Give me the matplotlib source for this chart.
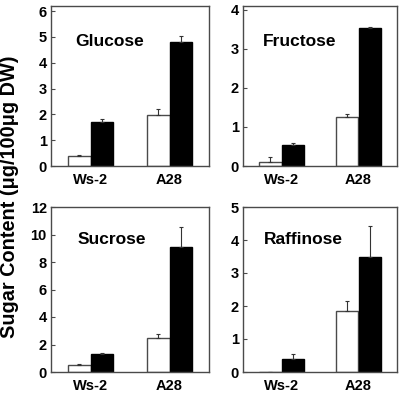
import numpy as np
import matplotlib
matplotlib.use("Agg")
import matplotlib.pyplot as plt

plt.rcParams['font.family'] = ['Liberation Sans', 'DejaVu Sans']
plt.rcParams['font.weight'] = 'bold'

# genotypes on the x axis; white = control, black = treated
GENOTYPES = ["Ws-2", "A28"]
SUGARS = ["Glucose", "Fructose", "Sucrose", "Raffinose"]

# values (ug/100ug DW), order: Ws-2, A28
glucose_white = [0.40, 1.98]
glucose_white_err = [0.04, 0.22]
glucose_black = [1.69, 4.79]
glucose_black_err = [0.13, 0.24]

fructose_white = [0.09, 1.25]
fructose_white_err = [0.13, 0.08]
fructose_black = [0.53, 3.53]
fructose_black_err = [0.05, 0.03]

sucrose_white = [0.49, 2.50]
sucrose_white_err = [0.10, 0.23]
sucrose_black = [1.29, 9.10]
sucrose_black_err = [0.10, 1.45]

raffinose_white = [0.0, 1.85]
raffinose_white_err = [0.0, 0.31]
raffinose_black = [0.40, 3.47]
raffinose_black_err = [0.16, 0.95]

YLIMS = [6.2, 4.1, 12, 5]
YTICKS = [np.arange(0, 7, 1), np.arange(0, 5, 1),
          np.arange(0, 13, 2), np.arange(0, 6, 1)]

# axes boxes in pixels (left, top, right, bottom) of the 400x393 image
W, H = 400, 393
BOXES = [(51, 6, 209, 166), (243, 6, 397, 166),
         (51, 207, 209, 372), (243, 207, 397, 372)]
TITLE_POS = [(0.37, 0.78), (0.37, 0.775), (0.385, 0.806), (0.395, 0.806)]

DATA = [
    (glucose_white, glucose_white_err, glucose_black, glucose_black_err),
    (fructose_white, fructose_white_err, fructose_black, fructose_black_err),
    (sucrose_white, sucrose_white_err, sucrose_black, sucrose_black_err),
    (raffinose_white, raffinose_white_err, raffinose_black, raffinose_black_err),
]

EDGE = "#4a4a4a"
BW = 0.29

fig = plt.figure(figsize=(W / 100, H / 100), dpi=100)

for i, (name, (wv, we, bv, be)) in enumerate(zip(SUGARS, DATA)):
    l, t, r, b = BOXES[i]
    ax = fig.add_axes([l / W, 1 - b / H, (r - l) / W, (b - t) / H])
    x = np.arange(len(GENOTYPES))
    ax.bar(x - BW / 2, wv, BW, color="white", edgecolor=EDGE, linewidth=1.0)
    ax.bar(x + BW / 2, bv, BW, color="black", edgecolor="black", linewidth=1.0)
    ax.errorbar(x - BW / 2, wv, yerr=[np.zeros(2), we], fmt="none",
                ecolor="#333333", elinewidth=0.8, capsize=1.5, capthick=0.8)
    ax.errorbar(x + BW / 2, bv, yerr=[np.zeros(2), be], fmt="none",
                ecolor="#333333", elinewidth=0.8, capsize=1.5, capthick=0.8)
    ax.set_xlim(-0.5, 1.5)
    ax.set_ylim(0, YLIMS[i])
    ax.set_yticks(YTICKS[i])
    ax.set_yticklabels([str(v) for v in YTICKS[i]], fontsize=10.5, fontweight="bold")
    ax.set_xticks(x)
    ax.set_xticklabels(GENOTYPES, fontsize=10.5, fontweight="bold")
    ax.tick_params(axis="x", length=0, pad=5)
    ax.tick_params(axis="y", direction="in", length=3, width=0.8,
                   color=EDGE, pad=3)
    for s in ax.spines.values():
        s.set_color(EDGE)
        s.set_linewidth(1.0)
    ax.text(*TITLE_POS[i], name, transform=ax.transAxes, ha="center",
            va="center", fontsize=12.5, fontweight="bold")

fig.text(10 / W, 1 - 197 / H, "Sugar Content (μg/100μg DW)", rotation=90,
         ha="center", va="center", fontsize=14.3, fontweight="bold")

fig.savefig("out.png", dpi=100)
